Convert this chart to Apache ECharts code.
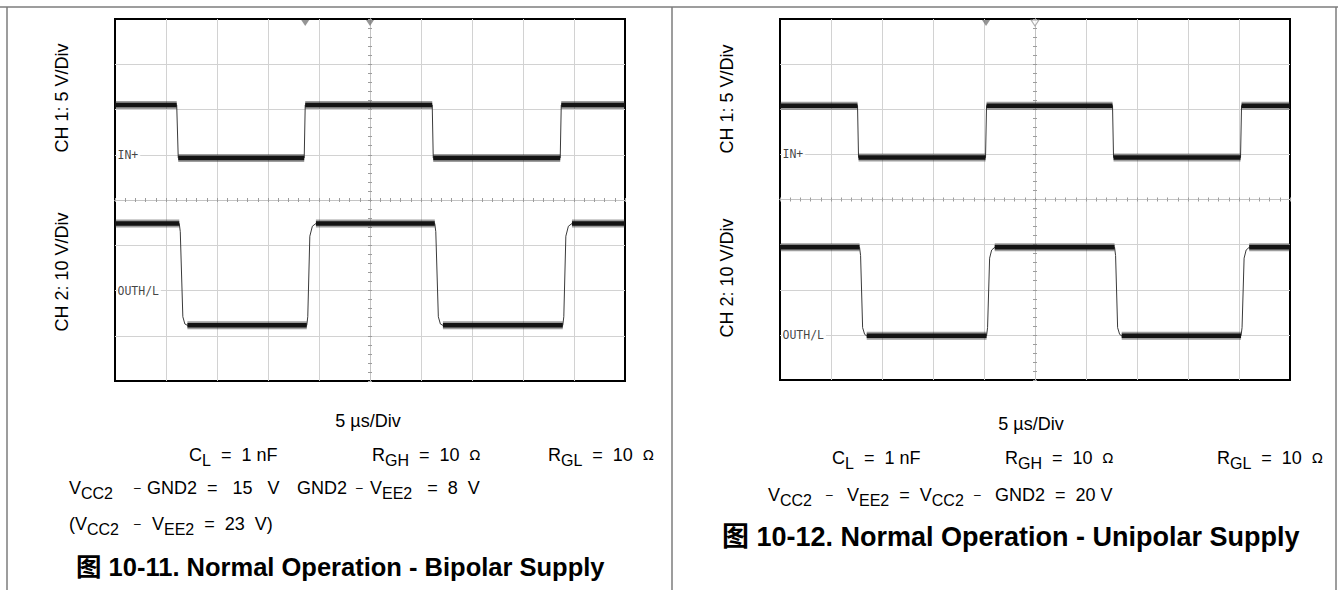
<!DOCTYPE html>
<html><head><meta charset="utf-8">
<script src="https://cdn.jsdelivr.net/npm/echarts@6/dist/echarts.min.js"></script>
<style>html,body{margin:0;padding:0;background:#fff;}#c{width:1338px;height:590px;}</style>
</head><body><div id="c"></div>
<script>
// ---- data (time in divisions, 5 µs/Div; level in divisions from screen centre) ----
const leftCh1Time  = [-5, -3.79, -3.76, -1.29, -1.27, 1.22, 1.24, 3.73, 3.75, 5];
const leftCh1Level = [2.10, 2.10, 0.93, 0.93, 2.10, 2.10, 0.93, 0.93, 2.10, 2.10];
const leftCh2Time  = [-5, -3.74, -3.72, -3.67, -3.63, -3.58, -1.24, -1.22, -1.18, -1.13, -1.06, 1.27, 1.29, 1.34, 1.38, 1.43, 3.78, 3.80, 3.84, 3.89, 3.96, 5];
const leftCh2Level = [-0.52, -0.52, -0.70, -2.58, -2.74, -2.77, -2.77, -2.58, -0.80, -0.58, -0.52, -0.52, -0.70, -2.58, -2.74, -2.77, -2.77, -2.58, -0.80, -0.58, -0.52, -0.52];
const rightCh1Time  = [-5, -3.48, -3.46, -0.97, -0.95, 1.52, 1.54, 4.03, 4.05, 5];
const rightCh1Level = [2.08, 2.08, 0.93, 0.93, 2.08, 2.08, 0.93, 0.93, 2.08, 2.08];
const rightCh2Time  = [-5, -3.44, -3.42, -3.38, -3.34, -3.30, -0.95, -0.93, -0.89, -0.85, -0.79, 1.56, 1.58, 1.62, 1.66, 1.70, 4.04, 4.06, 4.10, 4.14, 4.20, 5];
const rightCh2Level = [-1.06, -1.06, -1.24, -2.84, -2.99, -3.02, -3.02, -2.84, -1.30, -1.12, -1.06, -1.06, -1.24, -2.84, -2.99, -3.02, -3.02, -2.84, -1.30, -1.12, -1.06, -1.06];
const refNames        = ['IN+', 'OUTH/L'];
const leftRefLevels   = [1, -2];
const rightRefLevels  = [1, -3];
const leftTrigTime    = [-1.27, 0];
const rightTrigFilled = [-0.96];
const rightTrigHollow = [0];
const chLabels  = ['CH 1: 5 V/Div', 'CH 2: 10 V/Div'];
const timeLabel = '5 µs/Div';
const captions  = ['图 10-11. Normal Operation - Bipolar Supply', '图 10-12. Normal Operation - Unipolar Supply'];

// ---- helpers ----
function trace(t, v) { return t.map((x, i) => [x, v[i]]); }
function plateaus(t, v) {
  const out = [];
  for (let i = 0; i < t.length - 1; i++) {
    if (v[i] === v[i + 1]) { out.push([t[i], v[i]], [t[i + 1], v[i + 1]], [t[i + 1], '-']); }
  }
  return out;
}
const gridLine = '#d2d2d2';
function axisPair(dim, g, otherIdx) {
  const isX = dim === 'x';
  const base = {
    gridIndex: g, type: 'value',
    min: isX ? -5 : -4, max: isX ? 5 : 4, interval: 1,
    axisLabel: { show: false },
    axisLine: { show: true, onZero: true, onZeroAxisIndex: otherIdx, lineStyle: { color: '#c4c4c4', width: 1 } },
    axisTick: { show: true, length: 2, lineStyle: { color: '#9c9c9c' } },
    minorTick: { show: true, splitNumber: 5, length: 2, lineStyle: { color: '#9c9c9c' } }
  };
  const a = Object.assign({}, base, {
    position: isX ? 'bottom' : 'left',
    splitLine: { show: true, showMinLine: false, showMaxLine: false, lineStyle: { color: gridLine, width: 1 } }
  });
  const b = Object.assign({}, base, { position: isX ? 'top' : 'right', splitLine: { show: false } });
  return [a, b];
}
function channelSeries(xi, yi, t, v) {
  return [
    { type: 'line', xAxisIndex: xi, yAxisIndex: yi, data: trace(t, v), symbol: 'none', silent: true,
      lineStyle: { color: '#3a3a3a', width: 1 }, z: 3 },
    { type: 'line', xAxisIndex: xi, yAxisIndex: yi, data: plateaus(t, v), symbol: 'none', silent: true, connectNulls: false,
      lineStyle: { color: 'rgba(40,40,40,0.45)', width: 8, cap: 'butt' }, z: 4 },
    { type: 'line', xAxisIndex: xi, yAxisIndex: yi, data: plateaus(t, v), symbol: 'none', silent: true, connectNulls: false,
      lineStyle: { color: '#141414', width: 4.5, cap: 'butt' }, z: 5 }
  ];
}
function refLabelSeries(xi, yi, levels) {
  return { type: 'scatter', xAxisIndex: xi, yAxisIndex: yi, symbolSize: 1, silent: true, z: 6,
    itemStyle: { color: 'rgba(0,0,0,0)' },
    data: levels.map((lv, i) => ({ name: refNames[i], value: [-5, lv] })),
    label: { show: true, position: 'right', distance: 1, formatter: '{b}', fontFamily: 'DejaVu Sans Mono',
      fontSize: 11.5, color: '#111', backgroundColor: '#fff', padding: [1, 2, 1, 1] } };
}
function trigSeries(xi, yi, times, hollow) {
  return { type: 'scatter', xAxisIndex: xi, yAxisIndex: yi, silent: true, z: 7, clip: false,
    symbol: 'triangle', symbolRotate: 180, symbolSize: [8, 6], symbolOffset: [0, 4],
    itemStyle: hollow ? { color: '#fff', borderColor: '#9a9a9a', borderWidth: 1 } : { color: '#7a7a7a' },
    data: times.map(t => [t, 4]) };
}

// ---- text helpers ----
const FONT = 'Liberation Sans, Arial, sans-serif';
const rich = {
  n: { fontSize: 18, fontFamily: FONT, color: '#000', lineHeight: 26 },
  s: { fontSize: 16, fontFamily: FONT, color: '#000', lineHeight: 16, verticalAlign: 'bottom' },
  d: { fontSize: 12, fontFamily: FONT, color: '#555', lineHeight: 26 },
  o: { fontSize: 14, fontFamily: 'DejaVu Sans, sans-serif', color: '#000', lineHeight: 26 }
};
function txt(x, y, text, align) {
  return { type: 'text', x: x, y: y, z: 10, silent: true,
    style: { text: text, rich: rich, align: align || 'left', verticalAlign: 'middle' } };
}
function plain(x, y, text, size, bold, align) {
  return { type: 'text', x: x, y: y, z: 10, silent: true,
    style: { text: text, font: (bold ? 'bold ' : '') + size + 'px Liberation Sans, Arial, Noto Sans CJK SC, sans-serif',
      fill: '#000', align: align || 'left', verticalAlign: 'middle' } };
}
function vlabel(x, y, text) {
  return { type: 'text', x: x, y: y, rotation: Math.PI / 2, z: 10, silent: true,
    style: { text: text, font: '18px Liberation Sans, Arial, sans-serif', fill: '#000', align: 'center', verticalAlign: 'middle' } };
}
function frameLine(x1, y1, x2, y2) {
  return { type: 'line', z: 10, silent: true, shape: { x1: x1, y1: y1, x2: x2, y2: y2 },
    style: { stroke: '#7c7c7c', lineWidth: 1.5 } };
}

const xA = [].concat(axisPair('x', 0, 0), axisPair('x', 1, 2));
const yA = [].concat(axisPair('y', 0, 0), axisPair('y', 1, 2));

const option = {
  animation: false,
  backgroundColor: '#fff',
  grid: [
    { left: 115, top: 19, width: 510, height: 362, show: true, borderColor: '#000', borderWidth: 2, backgroundColor: '#fff' },
    { left: 780, top: 19, width: 510, height: 361, show: true, borderColor: '#000', borderWidth: 2, backgroundColor: '#fff' }
  ],
  xAxis: xA,
  yAxis: yA,
  series: [].concat(
    channelSeries(0, 0, leftCh1Time, leftCh1Level),
    channelSeries(0, 0, leftCh2Time, leftCh2Level),
    channelSeries(2, 2, rightCh1Time, rightCh1Level),
    channelSeries(2, 2, rightCh2Time, rightCh2Level),
    [refLabelSeries(0, 0, leftRefLevels), refLabelSeries(2, 2, rightRefLevels),
     trigSeries(0, 0, leftTrigTime, false), trigSeries(2, 2, rightTrigFilled, false), trigSeries(2, 2, rightTrigHollow, true)]
  ),
  graphic: [
    frameLine(0, 7, 1338, 7),
    frameLine(7, 7, 7, 590),
    frameLine(672, 7, 672, 590),
    frameLine(1336, 7, 1336, 590),
    vlabel(62, 98, chLabels[0]), vlabel(62, 272, chLabels[1]),
    vlabel(727, 99, chLabels[0]), vlabel(727, 278, chLabels[1]),
    plain(368, 421, timeLabel, 18, false, 'center'),
    plain(1031, 424, timeLabel, 18, false, 'center'),
    // left annotations
    txt(189, 455, '{n|C}{s|L}{n|  =  1 nF}'),
    txt(372, 455, '{n|R}{s|GH}{n|  =  10  }{o|Ω}'),
    txt(548, 455, '{n|R}{s|GL}{n|  =  10  }{o|Ω}'),
    txt(69, 488, '{n|V}{s|CC2}'),
    txt(134, 488, '{d|–}'),
    txt(147, 488, '{n|GND2  =   15   V}'),
    txt(297, 488, '{n|GND2}'),
    txt(356, 488, '{d|–}'),
    txt(370, 488, '{n|V}{s|EE2}{n|   =  8  V}'),
    txt(69, 524, '{n|(V}{s|CC2}'),
    txt(134, 524, '{d|–}'),
    txt(152, 524, '{n|V}{s|EE2}{n|  =  23  V)}'),
    plain(76, 567, captions[0], 25.5, true),
    // right annotations
    txt(832, 458, '{n|C}{s|L}{n|  =  1 nF}'),
    txt(1005, 458, '{n|R}{s|GH}{n|  =  10  }{o|Ω}'),
    txt(1217, 458, '{n|R}{s|GL}{n|  =  10  }{o|Ω}'),
    txt(768, 495, '{n|V}{s|CC2}'),
    txt(826, 495, '{d|–}'),
    txt(847, 495, '{n|V}{s|EE2}{n|  =  V}{s|CC2}'),
    txt(974, 495, '{d|–}'),
    txt(995, 495, '{n|GND2  =  20 V}'),
    plain(722, 537, captions[1], 27, true)
  ]
};
const chart = echarts.init(document.getElementById('c'), null, { renderer: 'svg' });
chart.setOption(option);
</script></body></html>
